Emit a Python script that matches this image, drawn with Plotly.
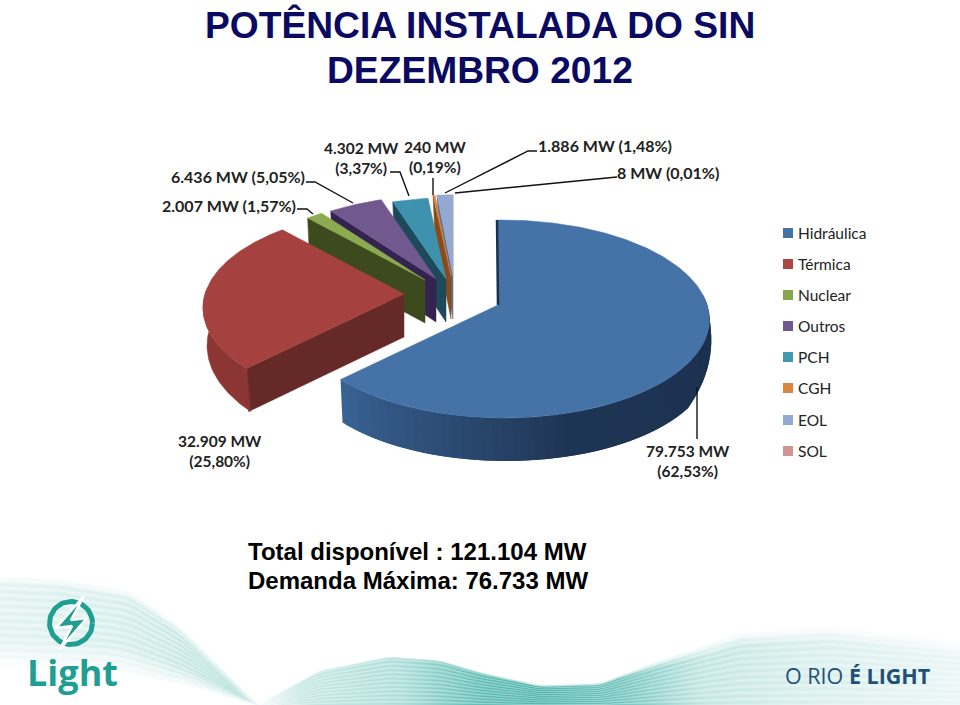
import numpy as np
import plotly.graph_objects as go

# ---------- data ----------
categories = ["Hidráulica", "Térmica", "Nuclear", "Outros", "PCH", "CGH", "EOL", "SOL"]
shares = [62.53, 25.80, 1.57, 5.05, 3.37, 0.19, 1.48, 0.01]
mw_text = ["79.753 MW", "32.909 MW", "2.007 MW", "6.436 MW", "4.302 MW", "240 MW", "1.886 MW", "8 MW"]
pct_text = ["(62,53%)", "(25,80%)", "(1,57%)", "(5,05%)", "(3,37%)", "(0,19%)", "(1,48%)", "(0,01%)"]
top_colors = ["#4572a7", "#a5413f", "#8caa4e", "#71588f", "#3f92ad", "#db843d", "#93a9d2", "#d19392"]
radial_colors = ["#17314f", "#652a27", "#3d4a1e", "#33244f", "#1c4a5a", "#8a4a1a", "#5c6c8a", "#8a5a5a"]
legend_colors = ["#4572a7", "#aa4643", "#89a54e", "#71588f", "#4198af", "#db843d", "#93a9cf", "#d19392"]

# slice apex on the page and radial scale
apex_x = [498, 404, 425, 436, 446, 451, 453, 453]
apex_y = [305, 294, 280, 279, 279, 276, 276, 276]
radius = [1.0, 1.0, 0.96, 0.98, 0.95, 0.95, 0.95, 0.95]
R_X, R_Y, PERSP, KEYSTONE, DEPTH = 204, 97, 0.1414, 0.025, 43


def project(i, theta_deg):
    t = np.radians(theta_deg)
    u, v = np.sin(t) * radius[i], -np.cos(t) * radius[i]
    d = 1 - PERSP * v - KEYSTONE * u
    return apex_x[i] + R_X * u / d, apex_y[i] + R_Y * v / d


def mix(c1, c2, f):
    a = [int(c1[k:k + 2], 16) for k in (1, 3, 5)]
    b = [int(c2[k:k + 2], 16) for k in (1, 3, 5)]
    return "rgb(%d,%d,%d)" % tuple(a[k] + (b[k] - a[k]) * f for k in range(3))


def poly(fig, xs, ys, color, lw=0.5):
    fig.add_trace(go.Scatter(x=list(xs) + [xs[0]], y=list(ys) + [ys[0]], mode="lines", fill="toself",
                             fillcolor=color, line=dict(color=color, width=lw),
                             hoverinfo="skip", showlegend=False))


fig = go.Figure()

# ---------- background waves ----------
W, H0, H1 = 960, 566, 705
gx = np.arange(W) + 0.5
gy = np.arange(H0, H1) + 0.5


def smooth(a, n=25):
    k = np.hanning(n)
    k /= k.sum()
    return np.convolve(np.pad(a, n // 2, mode="edge"), k, mode="valid")


X, Y = np.meshgrid(gx, gy)
tl = smooth(np.interp(gx, [0, 60, 130, 180, 230, 262], [575, 578, 590, 625, 675, 707]))
bl = smooth(np.interp(gx, [0, 110, 200, 262], [670, 672, 690, 707]))
sl = (Y - tl[None, :]) / np.maximum(bl[None, :] - tl[None, :], 1)
env_l = np.interp(gx, [0, 120, 200, 262, 263], [0.17, 0.22, 0.34, 0.5, 0])
zl = env_l[None, :] * np.clip((Y - tl[None, :]) / 10, 0, 1) * np.clip((1 - sl) * 3, 0, 1)
zl = zl * (0.78 + 0.22 * np.sin(2 * np.pi * sl * 13))

tc = smooth(np.interp(gx, [250, 320, 390, 440, 480, 540, 600, 660, 740, 830, 960],
                      [708, 670, 656, 660, 672, 685, 683, 660, 632, 626, 640]))
sc = (Y - tc[None, :]) / np.maximum(707 - tc[None, :], 1)
env_c = smooth(np.interp(gx, [255, 300, 400, 480, 540, 620, 700, 800, 960],
                         [0.0, 0.30, 0.45, 0.9, 1.0, 0.8, 0.34, 0.22, 0.12]))
soft = np.interp(gx, [250, 480, 620, 720, 960], [2, 2, 3, 14, 18])
zc = env_c[None, :] * np.clip((Y - tc[None, :]) / soft[None, :], 0, 1)
zc = zc * (0.82 + 0.18 * np.sin(2 * np.pi * np.clip(sc, 0, 1) * 12))
Z = np.round(np.maximum(zl, zc), 3)
fig.add_trace(go.Heatmap(x=gx, y=gy, z=Z, zmin=0, zmax=1, showscale=False, hoverinfo="skip",
                         colorscale=[[0, "#ffffff"], [0.35, "#bfe5e1"], [1, "#4fb5ae"]]))

# ---------- pie ----------
starts = np.concatenate([[0], np.cumsum(shares)[:-1]]) * 3.6
ends = np.cumsum(shares) * 3.6

for i in [7, 6, 5, 4, 3, 2, 1, 0]:
    a, b = starts[i], ends[i]
    th = np.linspace(a, b, max(3, int((b - a) * 1.5)))
    ax_, ay_ = apex_x[i], apex_y[i]
    if 0 < i < 7:
        ox, oy = project(i, a)
        poly(fig, [ox, ax_, ax_, ox + 2], [oy, ay_, ay_ + DEPTH, oy + DEPTH], radial_colors[i])
    if i == 0:
        # outer rim shaded by overlapping bands, right to left
        rim = np.arange(84, b + 0.01, 2.5)
        rim[-1] = b
        for t0, t1 in zip(rim[:-1], rim[1:]):
            t2 = min(t1 + 2.5, b)
            tt = np.linspace(t0, t2, 5)
            xs, ys = project(i, tt)
            f = (t0 - 84) / (b - 84)
            c = mix("#1b304d", "#1f3555", min(f * 1.8, 1)) if f < 0.55 else mix("#1f3555", "#3a6596", (f - 0.55) / 0.45)
            dd = DEPTH * (0.2 + 0.8 * np.minimum((tt - 84) / 40, 1))
            poly(fig, list(xs) + list(xs[::-1] + 2), list(ys) + list((ys + dd)[::-1]), c, lw=0)
    if i == 1:
        tt = np.linspace(a, 272, 40)
        xs, ys = project(i, tt)
        poly(fig, list(xs) + list(xs[::-1] + 4), list(ys) + list((ys + DEPTH * np.linspace(1, 0.85, 40))[::-1]), "#8b3634")
    ox, oy = project(i, th)
    poly(fig, [ax_] + list(ox), [ay_] + list(oy), top_colors[i])

sx, sy = project(0, 0)
fig.add_trace(go.Scatter(x=[sx - 1, apex_x[0]], y=[sy, apex_y[0]], mode="lines",
                         line=dict(color=radial_colors[0], width=2.5), hoverinfo="skip", showlegend=False))

# ---------- leader lines ----------
leaders = [
    [(697, 387), (697, 439)],
    [(306, 182), (315, 182), (353, 203)],
    [(297, 209), (307, 209), (313, 214)],
    [(390, 172), (400, 172), (409, 196)],
    [(433, 178), (433, 195)],
    [(537, 151), (528, 151), (445, 193)],
    [(617, 177), (455, 193)],
]
for seg in leaders:
    fig.add_trace(go.Scatter(x=[p[0] for p in seg], y=[p[1] for p in seg], mode="lines",
                             line=dict(color="#111111", width=1.4), hoverinfo="skip", showlegend=False))

# ---------- legend ----------
legend_y = [233, 264, 295, 326, 357, 388, 420, 451]
for name, col, ly in zip(categories, legend_colors, legend_y):
    fig.add_trace(go.Scatter(x=[788], y=[ly], mode="markers", name=name,
                             marker=dict(symbol="square", size=10, color=col),
                             hoverinfo="skip", showlegend=False))

ann = []


def txt(x, y, s, size, font, color, anchor="left", bold=False):
    if bold:
        s = "<b>" + s.replace("<br>", "</b><br><b>") + "</b>"
    ann.append(dict(x=x, y=y, xref="x", yref="y", text=s, showarrow=False, xanchor=anchor, yanchor="middle",
                    align={"left": "left", "center": "center", "right": "right"}[anchor],
                    font=dict(size=size, family=font, color=color)))


for name, ly in zip(categories, legend_y):
    txt(796, ly, name, 15.5, "Lato", "#222222")

LBL = "Lato"
txt(361, 158, mw_text[4] + "<br>" + pct_text[4], 15.5, LBL, "#222222", "center", True)
txt(435, 157, mw_text[5] + "<br>" + pct_text[5], 15.5, LBL, "#222222", "center", True)
txt(536, 145, mw_text[6] + " " + pct_text[6], 16, LBL, "#222222", "left", True)
txt(615, 172, mw_text[7] + " " + pct_text[7], 16, LBL, "#222222", "left", True)
txt(169, 176, mw_text[3] + " " + pct_text[3], 16, LBL, "#222222", "left", True)
txt(160, 205, mw_text[2] + " " + pct_text[2], 16, LBL, "#222222", "left", True)
txt(220, 451, mw_text[1] + "<br>" + pct_text[1], 15.5, LBL, "#222222", "center", True)
txt(688, 461, mw_text[0] + "<br>" + pct_text[0], 15.5, LBL, "#222222", "center", True)

TITLE = "Liberation Sans"
txt(480, 24.5, "POTÊNCIA INSTALADA DO SIN", 37.2, TITLE, "#0a0a62", "center", True)
txt(480, 69.5, "DEZEMBRO 2012", 37.2, TITLE, "#0a0a62", "center", True)
txt(246, 551, "Total disponível : 121.104 MW", 24, TITLE, "#000000", "left", True)
txt(246, 580, "Demanda Máxima: 76.733 MW", 24, TITLE, "#000000", "left", True)

# ---------- logo ----------
TEAL = "#1f9f92"
rt = np.radians(np.arange(0, 361, 5))
fig.add_trace(go.Scatter(x=71 + 21.5 * np.cos(rt), y=623 + 21.5 * np.sin(rt), mode="lines",
                         line=dict(color=TEAL, width=5), hoverinfo="skip", showlegend=False))
bolt_x = [84, 56, 72, 60, 87, 71]
bolt_y = [596, 628, 626, 649, 618, 620]
fig.add_trace(go.Scatter(x=bolt_x + bolt_x[:1], y=bolt_y + bolt_y[:1], mode="lines", fill="toself",
                         fillcolor=TEAL, line=dict(color="#ffffff", width=2.5),
                         hoverinfo="skip", showlegend=False))
txt(72, 672, "Light", 36, "Open Sans", TEAL, "center", True)
ann.append(dict(x=933, y=675, xref="x", yref="y", showarrow=False, xanchor="right", yanchor="middle",
                text="O RIO <b>É LIGHT</b>", font=dict(size=21.5, family="Open Sans", color="#1f5178")))

fig.update_layout(
    width=960, height=705, margin=dict(l=0, r=0, t=0, b=0), autosize=False,
    paper_bgcolor="#ffffff", plot_bgcolor="#ffffff", showlegend=False, annotations=ann,
    xaxis=dict(range=[0, 960], visible=False, fixedrange=True),
    yaxis=dict(range=[705, 0], visible=False, fixedrange=True),
)
fig.write_html("out.html", config={"displayModeBar": False},
               post_script="document.body.style.margin='0';document.body.style.overflow='hidden';")
